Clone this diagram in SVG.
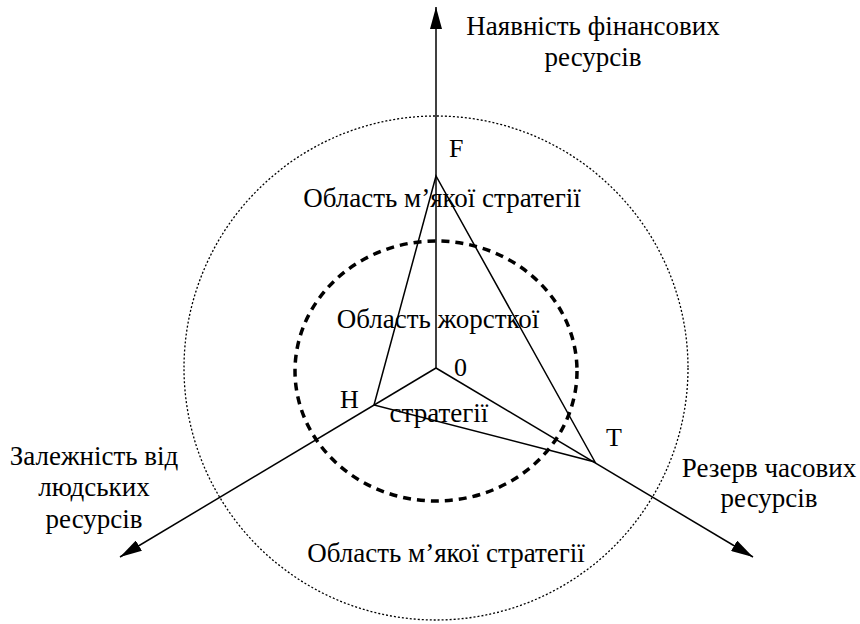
<svg xmlns="http://www.w3.org/2000/svg" width="860" height="624" viewBox="0 0 860 624">
<style>
text{font-family:"Liberation Serif","Times New Roman",serif;font-size:27px;fill:#000}
.mid{text-anchor:middle}
.pt{font-size:26px}
.ax{stroke:#000;stroke-width:1.5;fill:none}
</style>
<defs>
<marker id="arr" viewBox="0 0 22 12" refX="22" refY="6" markerWidth="22" markerHeight="12" markerUnits="userSpaceOnUse" orient="auto">
<path d="M0,0 L22,6 L0,12 z" fill="#000"/>
</marker>
</defs>
<rect width="860" height="624" fill="#fff"/>
<g id="zones">
<circle cx="436" cy="368" r="252" fill="none" stroke="#000" stroke-width="1.3" stroke-dasharray="2 2"/>
<ellipse cx="436" cy="371" rx="141" ry="130" fill="none" stroke="#000" stroke-width="3.5" stroke-dasharray="8 6"/>
</g>
<g id="connectors">
<line class="ax" x1="436" y1="368" x2="436" y2="7" marker-end="url(#arr)"/>
<line class="ax" x1="436" y1="368" x2="120" y2="557" marker-end="url(#arr)"/>
<line class="ax" x1="436" y1="368" x2="753" y2="557" marker-end="url(#arr)"/>
</g>
<g id="triangle">
<polygon points="436,176 374,405 595,462" fill="none" stroke="#000" stroke-width="1.5" stroke-linejoin="miter"/>
</g>
<g id="axis-finance">
<text class="mid" x="593" y="35">Наявність фінансових</text>
<text class="mid" x="593" y="66">ресурсів</text>
</g>
<g id="axis-human">
<text class="mid" x="94" y="465">Залежність від</text>
<text class="mid" x="94" y="496">людських</text>
<text class="mid" x="94" y="528">ресурсів</text>
</g>
<g id="axis-time">
<text class="mid" x="769" y="477">Резерв часових</text>
<text class="mid" x="769" y="507">ресурсів</text>
</g>
<g id="point-labels">
<text class="pt" x="449" y="157">F</text>
<text class="pt" x="340" y="408">Н</text>
<text class="pt" x="454" y="376">0</text>
<text class="pt" x="606" y="446">T</text>
</g>
<g id="area-labels">
<text class="mid" x="442" y="207">Область м’якої стратегії</text>
<text class="mid" x="438" y="328">Область жорсткої</text>
<text class="mid" x="439" y="422">стратегії</text>
<text class="mid" x="446" y="562">Область м’якої стратегії</text>
</g>
</svg>
